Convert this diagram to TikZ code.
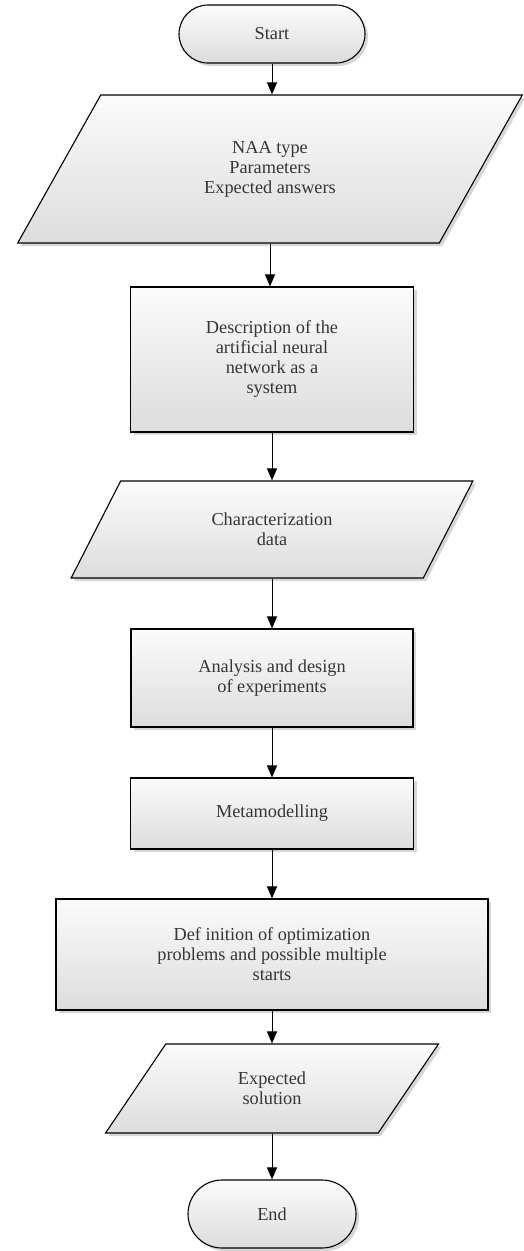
\documentclass[tikz,border=0pt]{standalone}
\usepackage{fontspec}
\setmainfont{Liberation Serif}
\usetikzlibrary{shapes.geometric,shapes.misc,shadows,arrows.meta}
\definecolor{inkgray}{HTML}{363636}

\begin{document}
\begin{tikzpicture}[x=1pt,y=-1pt,
  box/.style={draw=black,line width=1.1pt,top color=gray!3,bottom color=gray!27,
    text=inkgray,align=center,font=\fontsize{18.3}{20}\selectfont,inner sep=2pt,
    drop shadow={shadow xshift=3pt,shadow yshift=-3pt,fill=black!16,opacity=1}},
  terminal/.style={box,rounded rectangle},
  process/.style={box,rectangle},
  io/.style={box,trapezium,trapezium left angle=61,trapezium right angle=119,
    trapezium stretches=true},
  flow/.style={-{Triangle[length=12pt,width=10pt]},line width=1pt}]
\useasboundingbox (0,0) rectangle (523,1251);
% start and inputs
\node[terminal,minimum width=190,minimum height=58] (start) at (272,34) {Start};
\node[io,minimum width=505,minimum height=148] (naa) at (270,169)
  {NAA type\\Parameters\\Expected answers};
\node[process,minimum width=283,minimum height=145] (desc) at (272,359.5)
  {Description of the\\artificial neural\\network as a\\system};
\node[io,minimum width=402,minimum height=97] (charac) at (272,529.5)
  {Characterization\\data};
% processing
\node[process,minimum width=282,minimum height=98] (doe) at (272,678)
  {Analysis and design\\of experiments};
\node[process,minimum width=283,minimum height=71] (meta) at (272,813.5)
  {Metamodelling};
\node[process,minimum width=432,minimum height=111] (optim) at (272,954.5)
  {Def inition of optimization\\problems and possible multiple\\starts};
% output and end
\node[io,minimum width=333,minimum height=89] (sol) at (272,1088.5)
  {Expected\\solution};
\node[terminal,minimum width=172,minimum height=68] (stop) at (272,1214) {End};
% arrows
\foreach \a/\b in {start/naa,naa/desc,desc/charac,charac/doe,doe/meta,
  meta/optim,optim/sol,sol/stop}
  \draw[flow] (\a.south) -- (\a.south |- \b.north);
\end{tikzpicture}
\end{document}
